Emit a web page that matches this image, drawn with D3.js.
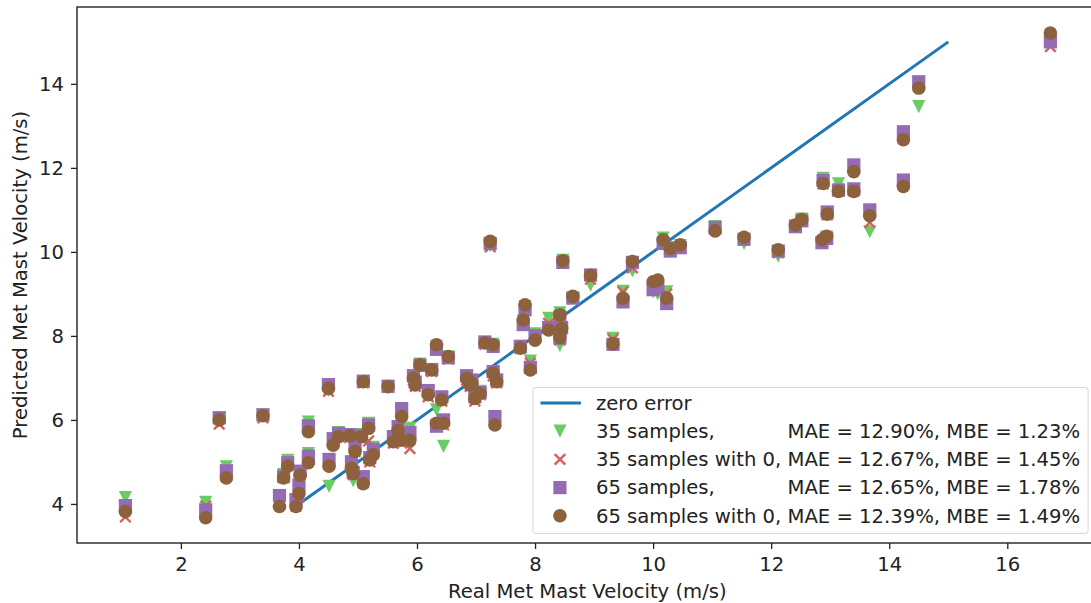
<!DOCTYPE html>
<html>
<head>
<meta charset="utf-8">
<script src="https://cdn.jsdelivr.net/npm/d3@7"></script>
<style>
    body { margin: 0; background: #fff; }
    text { font-family: "DejaVu Sans", sans-serif; fill: #222; white-space: pre; }
</style>
</head>
<body>
<div id="chart"></div>
<script>
//Real met mast velocity (m/s), one entry per sample
const realVelocity = [
    1.06, 2.42, 2.65, 2.77, 3.39, 3.67, 3.74, 3.81, 3.95, 4.0,
    4.02, 4.16, 4.16, 4.5, 4.51, 4.58, 4.67, 4.86, 4.89, 4.92,
    4.95, 5.06, 5.09, 5.09, 5.18, 5.2, 5.26, 5.51, 5.6, 5.68,
    5.74, 5.74, 5.88, 5.94, 5.97, 6.05, 6.19, 6.25, 6.33, 6.33,
    6.45, 6.42, 6.53, 6.84, 6.9, 6.93, 6.98, 7.07, 7.15, 7.24,
    7.29, 7.29, 7.35, 7.32, 7.75, 7.8, 7.83, 7.92, 8.0, 8.23,
    8.42, 8.45, 8.42, 8.47, 8.64, 8.94, 9.32, 9.49, 9.65, 10.0,
    10.08, 10.17, 10.23, 10.29, 10.46, 11.05, 11.54, 12.12, 12.41, 12.52,
    12.86, 12.94, 12.88, 12.95, 13.14, 13.4, 13.4, 13.67, 14.24, 14.24,
    14.5, 16.73
];

//Predicted velocity, 35 samples
const pred35 = [
    4.15, 4.04, 6.05, 4.88, 6.12, 4.15, 4.7, 5.04, 4.1, 4.3,
    4.75, 5.2, 5.95, 6.7, 4.42, 5.55, 5.7, 5.65, 5.0, 4.55,
    5.35, 5.65, 6.92, 4.6, 5.92, 5.1, 5.35, 6.8, 5.6, 5.8,
    6.2, 5.55, 5.8, 7.05, 6.88, 7.33, 6.65, 7.2, 7.75, 6.24,
    5.37, 6.5, 7.5, 7.05, 6.85, 6.9, 6.55, 6.68, 7.85, 10.15,
    7.8, 7.15, 6.95, 6.05, 7.75, 8.35, 8.7, 7.4, 8.05, 8.42,
    8.55, 8.2, 7.77, 9.8, 8.9, 9.21, 7.94, 9.06, 9.55, 9.05,
    9.0, 10.33, 9.05, 10.1, 10.15, 10.6, 10.2, 9.9, 10.62, 10.78,
    10.2, 10.35, 11.75, 10.92, 11.62, 12.0, 11.48, 10.48, 12.75, 11.6,
    13.46, 15.1
];

//Predicted velocity, 35 samples with 0
const pred35Zero = [
    3.69, 3.95, 5.9, 4.72, 6.05, 4.1, 4.62, 4.92, 3.95, 4.2,
    4.7, 5.05, 5.75, 6.68, 4.95, 5.45, 5.6, 5.58, 4.85, 4.7,
    5.25, 5.55, 6.88, 4.5, 5.5, 5.0, 5.2, 6.78, 5.45, 5.7,
    6.1, 5.45, 5.32, 6.95, 6.8, 7.28, 6.55, 7.15, 7.7, 5.9,
    5.88, 6.45, 7.45, 6.95, 6.8, 6.85, 6.45, 6.6, 7.8, 10.12,
    7.75, 7.05, 6.88, 6.0, 7.7, 8.3, 8.65, 7.35, 7.95, 8.3,
    8.5, 8.15, 7.9, 9.78, 8.88, 9.35, 7.92, 9.05, 9.62, 9.15,
    9.1, 10.25, 9.0, 10.05, 10.12, 10.55, 10.28, 9.98, 10.6, 10.75,
    10.25, 10.32, 11.62, 10.88, 11.5, 11.95, 11.45, 10.7, 12.7, 11.6,
    13.95, 14.89
];

//Predicted velocity, 65 samples
const pred65 = [
    3.96, 3.86, 6.05, 4.79, 6.12, 4.2, 4.66, 4.98, 4.1, 4.45,
    4.78, 5.14, 5.86, 6.84, 5.06, 5.55, 5.68, 5.65, 5.0, 4.75,
    5.4, 5.62, 6.92, 4.65, 5.88, 5.1, 5.3, 6.8, 5.6, 5.84,
    6.27, 5.6, 5.7, 7.05, 6.9, 7.3, 6.7, 7.2, 7.68, 5.85,
    6.0, 6.55, 7.48, 7.05, 6.9, 6.95, 6.55, 6.65, 7.85, 10.2,
    7.75, 7.15, 6.95, 6.08, 7.75, 8.27, 8.62, 7.25, 8.0, 8.2,
    8.45, 8.2, 7.95, 9.75, 8.9, 9.45, 7.8, 8.81, 9.75, 9.1,
    9.14, 10.2, 8.77, 10.02, 10.1, 10.58, 10.3, 10.02, 10.6, 10.74,
    10.22, 10.32, 11.7, 10.95, 11.47, 12.07, 11.5, 11.0, 12.86, 11.71,
    14.05, 15.0
];

//Predicted velocity, 65 samples with 0
const pred65Zero = [
    3.82, 3.67, 6.0, 4.62, 6.1, 3.94, 4.62, 4.9, 3.94, 4.25,
    4.68, 4.98, 5.72, 6.75, 4.9, 5.4, 5.6, 5.62, 4.85, 4.72,
    5.25, 5.6, 6.91, 4.48, 5.8, 5.05, 5.17, 6.79, 5.48, 5.75,
    6.08, 5.52, 5.52, 6.99, 6.83, 7.31, 6.6, 7.19, 7.79, 5.92,
    5.92, 6.48, 7.51, 6.99, 6.83, 6.87, 6.51, 6.63, 7.83, 10.25,
    7.79, 7.11, 6.91, 5.88, 7.71, 8.38, 8.74, 7.19, 7.9, 8.14,
    8.5, 8.18, 7.96, 9.79, 8.94, 9.44, 7.81, 8.9, 9.77, 9.29,
    9.33, 10.29, 8.9, 10.08, 10.17, 10.5, 10.35, 10.05, 10.64, 10.77,
    10.29, 10.37, 11.63, 10.9, 11.44, 11.91, 11.44, 10.86, 12.67, 11.56,
    13.9, 15.21
];

//Zero error reference line
const zeroErrorX = [4, 15];
const zeroErrorY = [4, 15];

const xTicks = [2, 4, 6, 8, 10, 12, 14, 16];
const yTicks = [4, 6, 8, 10, 12, 14];

const seriesNames = [
    "35 samples,",
    "35 samples with 0,",
    "65 samples,",
    "65 samples with 0,",
];
const seriesMetrics = [
    "MAE = 12.90%, MBE = 1.23%",
    "MAE = 12.67%, MBE = 1.45%",
    "MAE = 12.65%, MBE = 1.78%",
    "MAE = 12.39%, MBE = 1.49%",
];
const lineName = "zero error";

const xLabel = "Real Met Mast Velocity (m/s)";
const yLabel = "Predicted Met Mast Velocity (m/s)";

drawChart();

function drawChart() {
    let width = 1091;
    let height = 603;
    let margin = { top: 7, left: 77, bottom: 60 };
    let plotRight = 1097.6;
    let fontSize = "19.6px";

    var x = d3.scaleLinear().domain([0.24, 17.53]).range([margin.left, plotRight]);
    var y = d3.scaleLinear().domain([3.07, 15.83]).range([height - margin.bottom, margin.top]);

    var svg = d3
        .select("#chart")
        .append("svg")
        .attr("width", width)
        .attr("height", height)
        .style("display", "block");

    var plot = svg.append("g");

    // zero error line
    var line = d3.line()
        .x((d) => x(d[0]))
        .y((d) => y(d[1]));

    plot.append("path")
        .datum(zeroErrorX.map((v, i) => [v, zeroErrorY[i]]))
        .attr("d", line)
        .attr("fill", "none")
        .attr("stroke", "#1f77b4")
        .attr("stroke-width", 3);

    // marker shapes, same order as the legend
    var markers = [
        { color: "#6acc64", type: "tri" },
        { color: "#d65f5f", type: "x" },
        { color: "#956cb4", type: "square" },
        { color: "#8c613c", type: "circle" },
    ];
    var seriesValues = [pred35, pred35Zero, pred65, pred65Zero];

    function drawMarker(g, m) {
        if (m.type === "tri") {
            g.append("path")
                .attr("d", "M-6.6,-6.6L6.6,-6.6L0,6.6Z")
                .attr("fill", m.color);
        } else if (m.type === "x") {
            g.append("path")
                .attr("d", "M-5.3,-5.3L5.3,5.3M-5.3,5.3L5.3,-5.3")
                .attr("stroke", m.color)
                .attr("stroke-width", 2.4)
                .attr("fill", "none");
        } else if (m.type === "square") {
            g.append("rect")
                .attr("x", -6.6).attr("y", -6.6)
                .attr("width", 13.2).attr("height", 13.2)
                .attr("fill", m.color);
        } else {
            g.append("circle")
                .attr("r", 6.8)
                .attr("fill", m.color);
        }
    }

    markers.forEach(function (m, si) {
        var pts = realVelocity.map((v, i) => ({ x: v, y: seriesValues[si][i] }));
        plot.append("g")
            .selectAll("g")
            .data(pts)
            .enter()
            .append("g")
            .attr("transform", (d) => `translate(${x(d.x)},${y(d.y)})`)
            .each(function () {
                drawMarker(d3.select(this), m);
            });
    });

    // axes
    var xAxis = svg.append("g")
        .attr("transform", `translate(0,${height - margin.bottom})`)
        .call(d3.axisBottom(x).tickValues(xTicks).tickSize(6).tickPadding(8).tickFormat(d3.format("d")));
    var yAxis = svg.append("g")
        .attr("transform", `translate(${margin.left},0)`)
        .call(d3.axisLeft(y).tickValues(yTicks).tickSize(6).tickPadding(7).tickFormat(d3.format("d")));

    [xAxis, yAxis].forEach(function (a) {
        a.select(".domain").remove();
        a.selectAll("line").attr("stroke", "#222").attr("stroke-width", 1.3);
        a.selectAll("text").attr("font-size", fontSize).style("fill", "#222");
    });

    // spines
    svg.append("rect")
        .attr("x", margin.left)
        .attr("y", margin.top)
        .attr("width", plotRight - margin.left)
        .attr("height", height - margin.bottom - margin.top)
        .attr("fill", "none")
        .attr("stroke", "#222")
        .attr("stroke-width", 1.4);

    svg.append("text")
        .attr("x", (margin.left + plotRight) / 2)
        .attr("y", 598)
        .attr("text-anchor", "middle")
        .attr("font-size", fontSize)
        .text(xLabel);

    svg.append("text")
        .attr("transform", `translate(26.5,${(margin.top + height - margin.bottom) / 2}) rotate(-90)`)
        .attr("text-anchor", "middle")
        .attr("font-size", fontSize)
        .text(yLabel);

    // legend
    var legend = svg.append("g");
    var rowH = 28.2;
    var textOff = 63;

    // measure the longest name so the metric parts line up
    var probe = svg.append("text").attr("font-size", fontSize);
    var nameW = d3.max(seriesNames, function (s) {
        probe.text(s + " ");
        return probe.node().getComputedTextLength();
    });
    var metricW = d3.max(seriesMetrics, function (s) {
        probe.text(s);
        return probe.node().getComputedTextLength();
    });
    probe.remove();

    var legendW = textOff + nameW + metricW + 8;
    var legendH = 146;
    var legendRight = plotRight - 9.5;
    var legendBottom = height - margin.bottom - 9.5;
    var lx = legendRight - legendW;
    var ly = legendBottom - legendH;

    legend.append("rect")
        .attr("x", lx)
        .attr("y", ly)
        .attr("width", legendW)
        .attr("height", legendH)
        .attr("rx", 3)
        .attr("fill", "white")
        .attr("fill-opacity", 0.8)
        .attr("stroke", "#d6d6d6")
        .attr("stroke-width", 1);

    var row0 = ly + 15.5;
    legend.append("line")
        .attr("x1", lx + 7.5)
        .attr("x2", lx + 48)
        .attr("y1", row0)
        .attr("y2", row0)
        .attr("stroke", "#1f77b4")
        .attr("stroke-width", 3);
    legend.append("text")
        .attr("x", lx + textOff)
        .attr("y", row0)
        .attr("dy", "0.35em")
        .attr("font-size", fontSize)
        .text(lineName);

    markers.forEach(function (m, i) {
        var cy = row0 + rowH * (i + 1);
        var g = legend.append("g").attr("transform", `translate(${lx + 27},${cy})`);
        drawMarker(g, m);
        var t = legend.append("text")
            .attr("y", cy)
            .attr("dy", "0.35em")
            .attr("font-size", fontSize);
        t.append("tspan").attr("x", lx + textOff).text(seriesNames[i]);
        t.append("tspan").attr("x", lx + textOff + nameW).text(seriesMetrics[i]);
    });
}
</script>
</body>
</html>
